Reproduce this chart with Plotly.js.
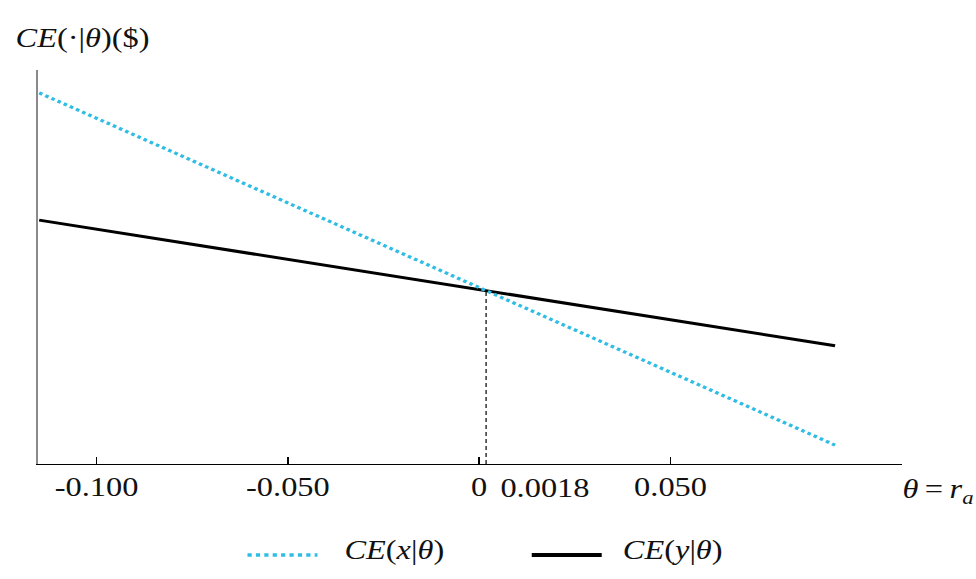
<!DOCTYPE html>
<html>
<head>
<meta charset="utf-8">
<script src="https://cdn.plot.ly/plotly-3.0.1.min.js"></script>
<style>
  html, body { margin: 0; padding: 0; background: #fff; overflow: hidden; }
  /* the figure is set with a slightly wide, horizontally stretched face */
  #chart { width: 813px; height: 579px; transform: scaleX(1.2); transform-origin: 0 0; }
</style>
</head>
<body>
<div id="chart"></div>
<script>
// θ = r_a at the two ends of each straight certainty-equivalent line
const theta = [-0.115, 0.093];
// CE(x|θ) and CE(y|θ) in dollars (scale not shown on the axis)
const ceX = [94.2, 4.8];
const ceY = [61.9, 30.0];
// θ at which the two certainty equivalents are equal
const thetaStar = 0.0018;
const starLabel = '0.0018';

const tickVals = [-0.1, -0.05, 0, 0.05];
const tickText = ['-0.100', '-0.050', '0', '0.050'];
const seriesNames = ['<i>CE</i>(<i>x</i>|<i>θ</i>)', '<i>CE</i>(<i>y</i>|<i>θ</i>)'];
const yTitle = '<i>CE</i>(·|<i>θ</i>)($)';
const xTitle = '<i>θ</i>\u2009=\u2009<i>r<sub>a</sub></i>';

const SERIF = 'Liberation Serif, Times New Roman, serif';
const CYAN = '#2fbde3';
const INK = '#111';

const ceStar = ceY[0] + (ceY[1] - ceY[0]) * (thetaStar - theta[0]) / (theta[1] - theta[0]);

const traces = [
  { x: [thetaStar, thetaStar], y: [0, ceStar], mode: 'lines',
    line: { color: '#000', width: 1, dash: '4px,3px' }, hoverinfo: 'skip', showlegend: false },
  { x: theta, y: ceY, mode: 'lines', name: seriesNames[1],
    line: { color: '#000', width: 3 }, showlegend: false },
  { x: theta, y: ceX, mode: 'lines', name: seriesNames[0],
    line: { color: CYAN, width: 3.2, dash: '3px,2.8px' }, showlegend: false }
];

// hand-set legend row under the axis
const legendY = -0.231;
const legendItems = [
  { x0: 0.242, x1: 0.323, tx: 0.352, color: CYAN, width: 3.5, dash: 'dot', label: seriesNames[0] },
  { x0: 0.571, x1: 0.652, tx: 0.674, color: '#000', width: 4, dash: 'solid', label: seriesNames[1] }
];

const shapes = legendItems.map(it => ({
  type: 'line', xref: 'paper', yref: 'paper',
  x0: it.x0, x1: it.x1, y0: legendY, y1: legendY,
  line: { color: it.color, width: it.width, dash: it.dash }
}));

const labelFont = { family: SERIF, size: 27, color: INK };

const annotations = [
  { text: yTitle, xref: 'paper', yref: 'paper', x: -0.029, y: 1.082,
    xanchor: 'left', yanchor: 'middle', showarrow: false, font: labelFont },
  { text: xTitle, xref: 'paper', yref: 'paper', x: 0.997, y: -0.068,
    xanchor: 'left', yanchor: 'middle', showarrow: false, font: labelFont },
  { text: starLabel, xref: 'x', yref: 'paper', x: thetaStar, y: -0.062,
    xanchor: 'left', yanchor: 'middle', xshift: 10, showarrow: false, font: labelFont }
].concat(legendItems.map(it => ({
  text: it.label, xref: 'paper', yref: 'paper', x: it.tx, y: legendY + 0.013,
  xanchor: 'left', yanchor: 'middle', showarrow: false, font: labelFont
})));

const layout = {
  width: 813, height: 579,
  margin: { l: 32, r: 61, t: 70, b: 115, autoexpand: false },
  paper_bgcolor: '#fff', plot_bgcolor: '#fff',
  showlegend: false,
  xaxis: {
    range: [-0.1152, 0.1106],
    tickvals: tickVals, ticktext: tickText,
    ticks: 'inside', ticklen: 7, tickwidth: 1.2, tickcolor: '#000',
    tickfont: labelFont, ticklabelstandoff: -2,
    showline: true, linecolor: '#000', linewidth: 1.3,
    showgrid: false, zeroline: false, fixedrange: true
  },
  yaxis: {
    range: [0, 100],
    showticklabels: false, ticks: '',
    showline: true, linecolor: '#8a8a8a', linewidth: 2,
    showgrid: false, zeroline: false, fixedrange: true
  },
  shapes: shapes,
  annotations: annotations
};

Plotly.newPlot('chart', traces, layout, { displayModeBar: false, staticPlot: true });
</script>
</body>
</html>
